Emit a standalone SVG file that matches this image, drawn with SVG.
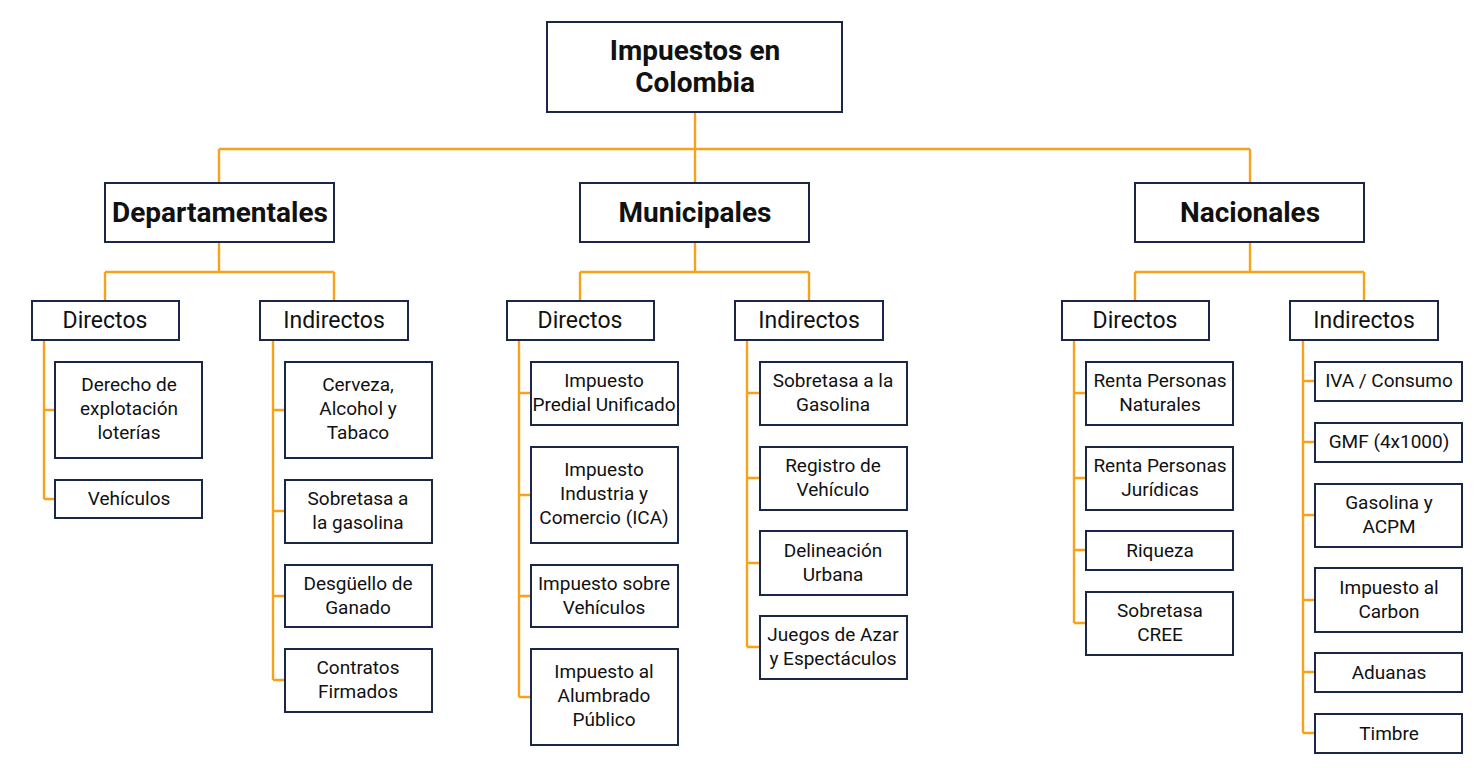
<svg xmlns="http://www.w3.org/2000/svg" width="1478" height="768" viewBox="0 0 1478 768">
<style>
.b{fill:#fff;stroke:#1b2748;stroke-width:2}
.c{fill:none;stroke:#f7a21b;stroke-width:2.4}
text{font-family:Roboto,"Liberation Sans",sans-serif;fill:#111;text-anchor:middle}
.t0{font-size:28px;font-weight:bold}
.t1{font-size:28px;font-weight:bold}
.t2{font-size:23px}
.t3{font-size:19px}
</style>
<rect width="1478" height="768" fill="#fff"/>
<g id="connectors" class="c">
<path d="M695 112V149M219 149H1250M219 149V183M695 149V183M1250 149V183"/>
<path d="M219 242V272M105 272H334M105 272V301M334 272V301"/>
<path d="M695 242V272M580 272H809M580 272V301M809 272V301"/>
<path d="M1250 242V272M1135 272H1364M1135 272V301M1364 272V301"/>
<path d="M44 340V499M44 410H55M44 499H55"/>
<path d="M273 340V680M273 410H285M273 511H285M273 596H285M273 680H285"/>
<path d="M519 340V697M519 393H531M519 495H531M519 596H531M519 697H531"/>
<path d="M747 340V647M747 393H760M747 478H760M747 563H760M747 647H760"/>
<path d="M1074 340V623M1074 393H1086M1074 478H1086M1074 550H1086M1074 623H1086"/>
<path d="M1303 340V733M1303 381H1315M1303 442H1315M1303 515H1315M1303 600H1315M1303 672H1315M1303 733H1315"/>
</g>
<g id="root"><rect class="b" x="547" y="22" width="295" height="90"/><text class="t0" x="695" y="60">Impuestos en</text><text class="t0" x="695" y="92">Colombia</text></g>
<g id="departamentales"><rect class="b" x="105" y="183" width="229" height="59"/><text class="t1" x="220" y="222">Departamentales</text></g>
<g id="municipales"><rect class="b" x="580" y="183" width="229" height="59"/><text class="t1" x="695" y="222">Municipales</text></g>
<g id="nacionales"><rect class="b" x="1135" y="183" width="229" height="59"/><text class="t1" x="1250" y="222">Nacionales</text></g>
<g id="dep-directos"><rect class="b" x="32" y="301" width="147" height="39"/><text class="t2" x="105" y="328">Directos</text></g>
<g id="dep-indirectos"><rect class="b" x="260" y="301" width="148" height="39"/><text class="t2" x="334" y="328">Indirectos</text></g>
<g id="mun-directos"><rect class="b" x="507" y="301" width="147" height="39"/><text class="t2" x="580" y="328">Directos</text></g>
<g id="mun-indirectos"><rect class="b" x="735" y="301" width="148" height="39"/><text class="t2" x="809" y="328">Indirectos</text></g>
<g id="nac-directos"><rect class="b" x="1062" y="301" width="147" height="39"/><text class="t2" x="1135" y="328">Directos</text></g>
<g id="nac-indirectos"><rect class="b" x="1290" y="301" width="148" height="39"/><text class="t2" x="1364" y="328">Indirectos</text></g>
<g id="derecho"><rect class="b" x="55" y="362" width="147" height="96"/><text class="t3" x="129" y="391">Derecho de</text><text class="t3" x="129" y="415">explotación</text><text class="t3" x="129" y="439">loterías</text></g>
<g id="vehiculos"><rect class="b" x="55" y="480" width="147" height="38"/><text class="t3" x="129" y="505">Vehículos</text></g>
<g id="cerveza"><rect class="b" x="285" y="362" width="147" height="96"/><text class="t3" x="358" y="391">Cerveza,</text><text class="t3" x="358" y="415">Alcohol y</text><text class="t3" x="358" y="439">Tabaco</text></g>
<g id="sobretasa-dep"><rect class="b" x="285" y="480" width="147" height="63"/><text class="t3" x="358" y="505">Sobretasa a</text><text class="t3" x="358" y="529">la gasolina</text></g>
<g id="desguello"><rect class="b" x="285" y="565" width="147" height="62"/><text class="t3" x="358" y="590">Desgüello de</text><text class="t3" x="358" y="614">Ganado</text></g>
<g id="contratos"><rect class="b" x="285" y="649" width="147" height="63"/><text class="t3" x="358" y="674">Contratos</text><text class="t3" x="358" y="698">Firmados</text></g>
<g id="predial"><rect class="b" x="531" y="362" width="147" height="63"/><text class="t3" x="604" y="387">Impuesto</text><text class="t3" x="604" y="411">Predial Unificado</text></g>
<g id="ica"><rect class="b" x="531" y="447" width="147" height="96"/><text class="t3" x="604" y="476">Impuesto</text><text class="t3" x="604" y="500">Industria y</text><text class="t3" x="604" y="524">Comercio (ICA)</text></g>
<g id="imp-vehiculos"><rect class="b" x="531" y="565" width="147" height="62"/><text class="t3" x="604" y="590">Impuesto sobre</text><text class="t3" x="604" y="614">Vehículos</text></g>
<g id="alumbrado"><rect class="b" x="531" y="649" width="147" height="96"/><text class="t3" x="604" y="678">Impuesto al</text><text class="t3" x="604" y="702">Alumbrado</text><text class="t3" x="604" y="726">Público</text></g>
<g id="sobretasa-mun"><rect class="b" x="760" y="362" width="147" height="63"/><text class="t3" x="833" y="387">Sobretasa a la</text><text class="t3" x="833" y="411">Gasolina</text></g>
<g id="registro"><rect class="b" x="760" y="447" width="147" height="63"/><text class="t3" x="833" y="472">Registro de</text><text class="t3" x="833" y="496">Vehículo</text></g>
<g id="delineacion"><rect class="b" x="760" y="531" width="147" height="64"/><text class="t3" x="833" y="557">Delineación</text><text class="t3" x="833" y="581">Urbana</text></g>
<g id="juegos"><rect class="b" x="760" y="616" width="147" height="63"/><text class="t3" x="833" y="641">Juegos de Azar</text><text class="t3" x="833" y="665">y Espectáculos</text></g>
<g id="renta-naturales"><rect class="b" x="1086" y="362" width="147" height="63"/><text class="t3" x="1160" y="387">Renta Personas</text><text class="t3" x="1160" y="411">Naturales</text></g>
<g id="renta-juridicas"><rect class="b" x="1086" y="447" width="147" height="63"/><text class="t3" x="1160" y="472">Renta Personas</text><text class="t3" x="1160" y="496">Jurídicas</text></g>
<g id="riqueza"><rect class="b" x="1086" y="531" width="147" height="39"/><text class="t3" x="1160" y="557">Riqueza</text></g>
<g id="cree"><rect class="b" x="1086" y="592" width="147" height="63"/><text class="t3" x="1160" y="617">Sobretasa</text><text class="t3" x="1160" y="641">CREE</text></g>
<g id="iva"><rect class="b" x="1315" y="362" width="147" height="39"/><text class="t3" x="1389" y="387">IVA / Consumo</text></g>
<g id="gmf"><rect class="b" x="1315" y="423" width="147" height="39"/><text class="t3" x="1389" y="448">GMF (4x1000)</text></g>
<g id="gasolina-acpm"><rect class="b" x="1315" y="484" width="147" height="63"/><text class="t3" x="1389" y="509">Gasolina y</text><text class="t3" x="1389" y="533">ACPM</text></g>
<g id="carbon"><rect class="b" x="1315" y="568" width="147" height="64"/><text class="t3" x="1389" y="594">Impuesto al</text><text class="t3" x="1389" y="618">Carbon</text></g>
<g id="aduanas"><rect class="b" x="1315" y="653" width="147" height="39"/><text class="t3" x="1389" y="679">Aduanas</text></g>
<g id="timbre"><rect class="b" x="1315" y="714" width="147" height="39"/><text class="t3" x="1389" y="740">Timbre</text></g>
</svg>
